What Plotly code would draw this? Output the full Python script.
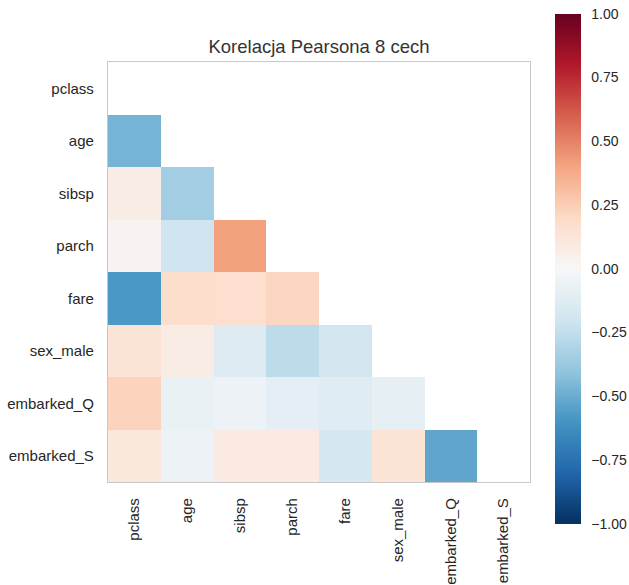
import plotly.graph_objects as go

features = ["pclass", "age", "sibsp", "parch", "fare", "sex_male", "embarked_Q", "embarked_S"]

# lower-triangle Pearson correlations (row feature vs earlier column features)
corr_age = [-0.47]
corr_sibsp = [0.08, -0.35]
corr_parch = [0.03, -0.20, 0.41]
corr_fare = [-0.58, 0.18, 0.17, 0.22]
corr_sex_male = [0.14, 0.08, -0.13, -0.26, -0.19]
corr_embarked_Q = [0.23, -0.07, -0.06, -0.10, -0.12, -0.09]
corr_embarked_S = [0.11, -0.06, 0.09, 0.09, -0.18, 0.14, -0.53]

lower_rows = [[], corr_age, corr_sibsp, corr_parch, corr_fare,
              corr_sex_male, corr_embarked_Q, corr_embarked_S]

colorbar_tick_start = -1.0
colorbar_tick_step = 0.25

n = len(features)
z = []
for row in lower_rows:
    z.append(list(row) + [None] * (n - len(row)))

rdbu_r = ["#053061", "#2166ac", "#4393c3", "#92c5de", "#d1e5f0", "#f7f7f7",
          "#fddbc7", "#f4a582", "#d6604d", "#b2182b", "#67001f"]
colorscale = [[i / (len(rdbu_r) - 1), c] for i, c in enumerate(rdbu_r)]

W, H = 629, 585
L, R, T, B = 108, 530, 62, 482

fig = go.Figure(go.Heatmap(
    x=features, y=features, z=z,
    zmin=-1, zmax=1, colorscale=colorscale,
    hoverongaps=False,
    colorbar=dict(
        xref="container", yref="container",
        x=555 / W, xanchor="left", xpad=0, ypad=0,
        y=1 - 19 / H, yanchor="top",
        lenmode="pixels", len=510,
        thicknessmode="pixels", thickness=26,
        outlinewidth=0,
        tickmode="linear", tick0=colorbar_tick_start, dtick=colorbar_tick_step,
        tickformat=".2f", ticklabeloverflow="allow",
        ticks="outside", ticklen=8, tickcolor="rgba(0,0,0,0)",
        tickfont=dict(size=14, color="#262626"),
    ),
))

axis_common = dict(
    showgrid=False, zeroline=False,
    showline=True, mirror=True, linecolor="#c8c8c8", linewidth=1.3,
    ticks="", tickfont=dict(size=15, color="#262626"),
    automargin=False,
)

fig.update_layout(
    width=W, height=H,
    margin=dict(l=L, r=W - R, t=T, b=H - B),
    paper_bgcolor="white", plot_bgcolor="white",
    font=dict(family="Liberation Sans, Arial, sans-serif", color="#262626"),
    title=dict(text="Korelacja Pearsona 8 cech", x=0.5, xref="paper", xanchor="center",
               y=1 - 47 / H, yref="container", yanchor="middle",
               font=dict(size=18.5, color="#333333")),
    xaxis=dict(**axis_common, type="category", categoryorder="array", categoryarray=features,
               range=[-0.5, n - 0.5], tickangle=-90, ticklabelstandoff=9),
    yaxis=dict(**axis_common, type="category", categoryorder="array", categoryarray=features,
               range=[n - 0.5, -0.5], ticklabelstandoff=10),
)

fig.write_html("out.html", config={"displayModeBar": False},
               post_script="document.body.style.margin='0';")
